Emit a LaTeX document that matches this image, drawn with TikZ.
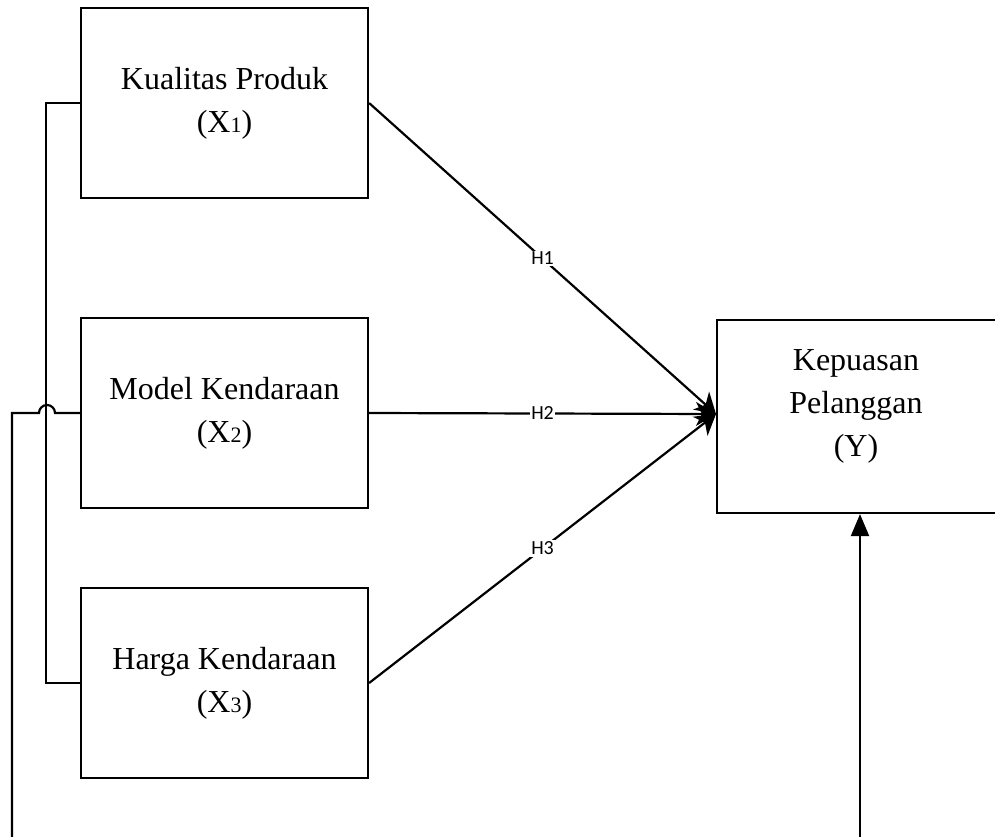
\documentclass[tikz,border=0pt]{standalone}
\usepackage{fontspec}
\setmainfont{Liberation Serif}
\newfontfamily\hfont{Carlito}
\usetikzlibrary{arrows.meta}
\newcommand{\sbx}[1]{{\fontsize{22}{22}\selectfont #1}}
\tikzset{
  x=1pt, y=-1pt,
  box/.style={draw, line width=2.2pt, minimum width=287pt, minimum height=190pt, align=center, inner sep=0pt,
    font=\fontsize{32}{43}\selectfont},
  conn/.style={line width=2.2pt},
  arr/.style={conn, -{Stealth[length=20pt, width=24pt, inset=6pt]}},
  hl/.style={fill=white, inner sep=1.5pt, font=\hfont\fontsize{20}{20}\selectfont}
}
\begin{document}
\begin{tikzpicture}
\useasboundingbox (0,0) rectangle (995,836);
\begin{scope}
\clip (0,0) rectangle (995,836);
\node[box] (b1) at (224.5,103) {Kualitas Produk\\(X\sbx{1})};
\node[box] (b2) at (224.5,413) {Model Kendaraan\\(X\sbx{2})};
\node[box] (b3) at (224.5,683) {Harga Kendaraan\\(X\sbx{3})};
\node[box, minimum width=290pt, minimum height=193pt] (by) at (862,416.5) {};
\node[align=center, font=\fontsize{32}{43}\selectfont] (yt) at (856,406) {Kepuasan\\Pelanggan\\(Y)};
\end{scope}
\coordinate (m) at (716,414);
\draw[arr] (b1.east) -- node[hl, pos=0.5] (h1) {H1} (m);
\draw[arr] (b2.east) -- node[hl, pos=0.5] (h2) {H2} (m);
\draw[arr] (b3.east) -- node[hl, pos=0.5] (h3) {H3} (m);
\draw[conn] (b1.west) -- ++(-34,0) coordinate (k1) |- (b3.west);
\coordinate (s) at (12,840);
\draw[conn] (s) -- (12,413) -- (39,413) arc[start angle=180, end angle=360, radius=8] -- (b2.west);
\coordinate (t) at (860,840);
\draw[conn, -{Triangle[length=22pt, width=18pt]}] (t) -- (t |- by.south);
\end{tikzpicture}
\end{document}
